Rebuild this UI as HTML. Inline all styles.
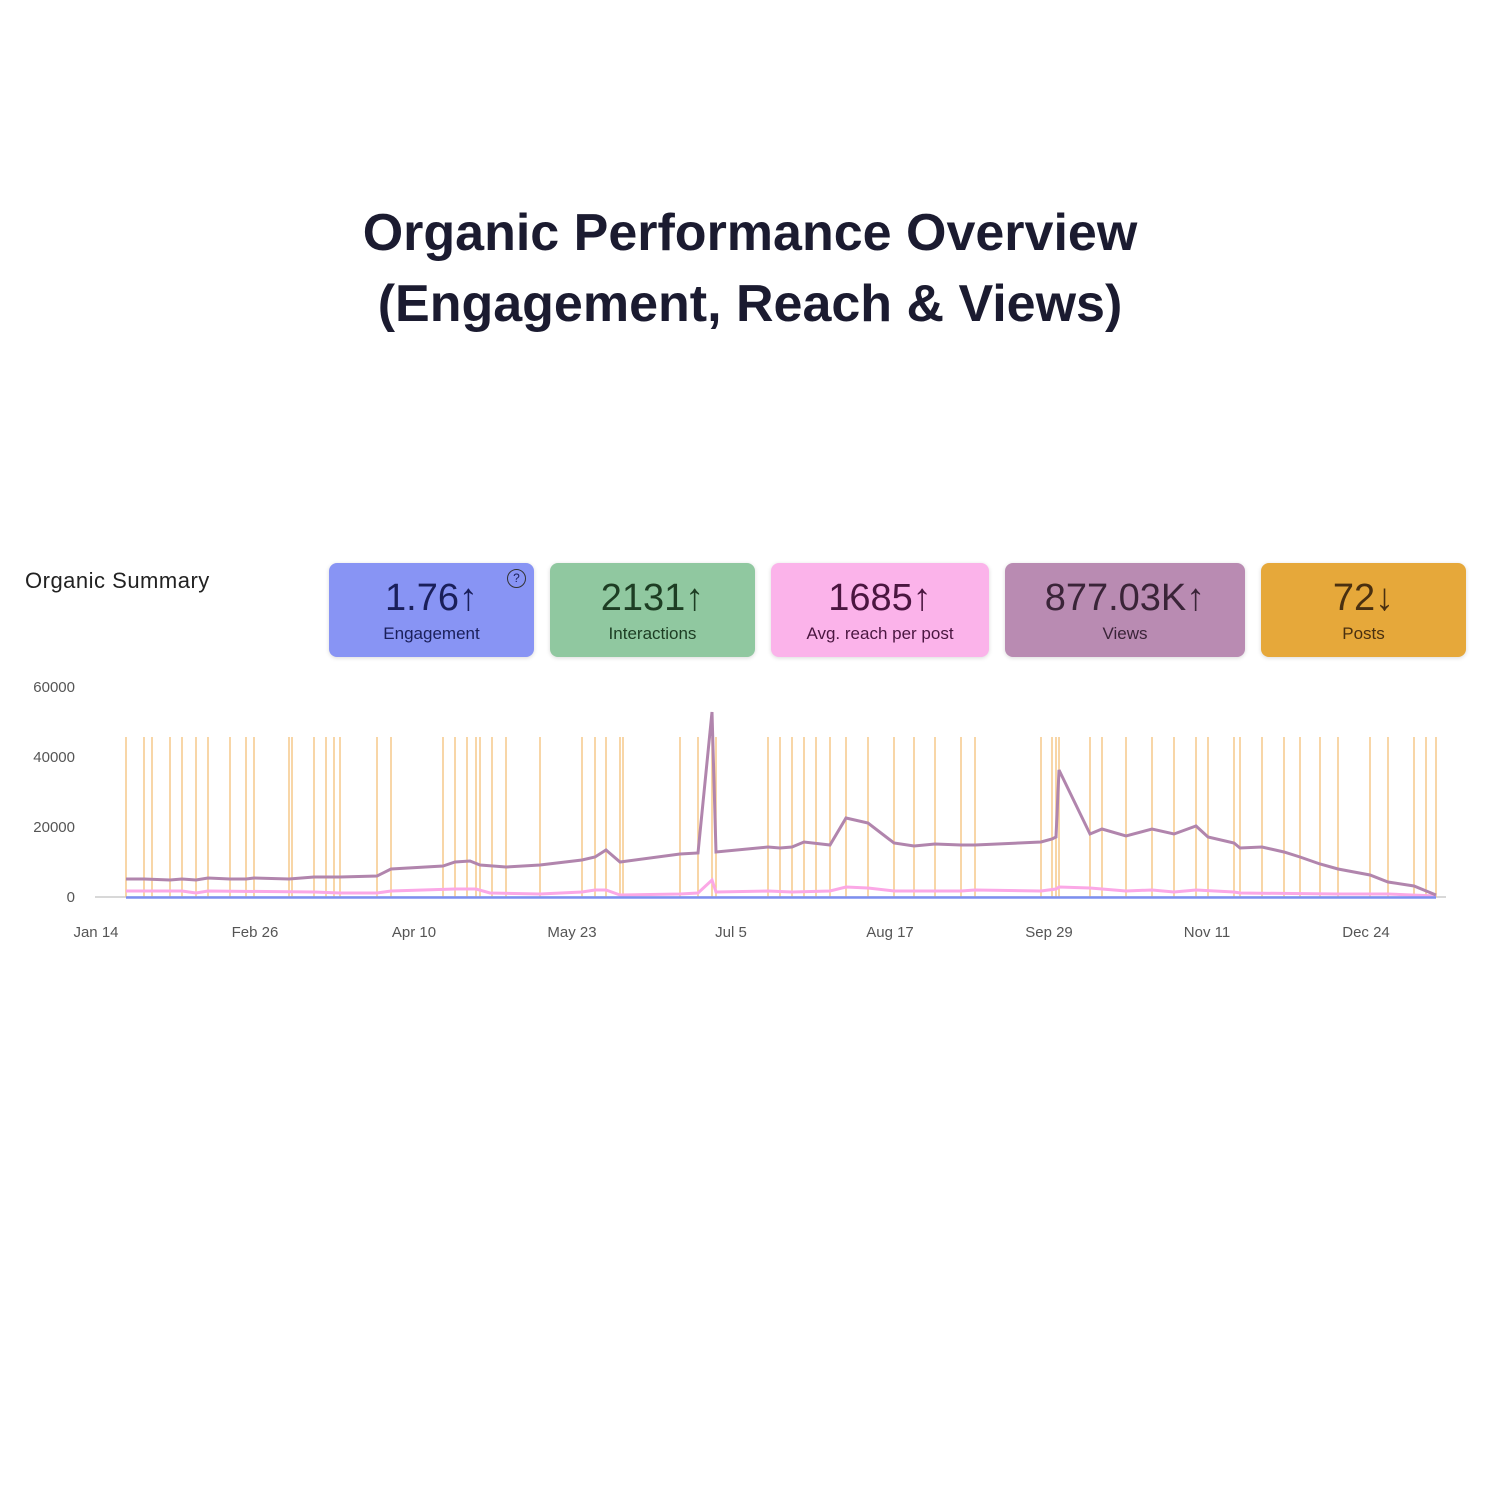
<!DOCTYPE html>
<html><head><meta charset="utf-8"><style>
body{margin:0;width:1500px;height:1500px;background:#fff;font-family:"Liberation Sans",sans-serif;position:relative;overflow:hidden}
.t{position:absolute;left:0;width:1500px;text-align:center;font-weight:bold;font-size:52px;color:#1b1b30;line-height:71px;top:198px}
.os{position:absolute;left:25px;top:568px;font-size:22px;letter-spacing:0.5px;color:#222}
.c{position:absolute;top:563px;height:94px;border-radius:8px;text-align:center;box-shadow:0 1px 4px rgba(0,0,0,.15)}
.c .v{font-size:38px;margin-top:13px;line-height:44px}
.c .l{font-size:17px;margin-top:4px}
</style></head><body>
<div class="t">Organic Performance Overview<br>(Engagement, Reach &amp; Views)</div>
<div class="os">Organic Summary</div>
<div class="c" style="left:329px;width:205px;background:#8894f4;color:#1a1f5a"><div class="v">1.76↑</div><div class="l">Engagement</div><div style="position:absolute;right:8px;top:6px;width:17px;height:17px;border:1.5px solid #333;border-radius:50%;font-size:12px;line-height:17px">?</div></div>
<div class="c" style="left:550px;width:205px;background:#90c8a0;color:#1d3d23"><div class="v">2131↑</div><div class="l">Interactions</div></div>
<div class="c" style="left:771px;width:218px;background:#fbb3ea;color:#4a1640"><div class="v">1685↑</div><div class="l">Avg. reach per post</div></div>
<div class="c" style="left:1005px;width:240px;background:#b98bb2;color:#3a2438"><div class="v">877.03K↑</div><div class="l">Views</div></div>
<div class="c" style="left:1261px;width:205px;background:#e6a83a;color:#4a3010"><div class="v">72↓</div><div class="l">Posts</div></div>
<svg width="1500" height="1500" style="position:absolute;left:0;top:0" font-family="Liberation Sans, sans-serif">
<g font-size="15" fill="#555" text-anchor="end">
<text x="75" y="692">60000</text><text x="75" y="762">40000</text><text x="75" y="832">20000</text><text x="75" y="902">0</text></g>
<g font-size="15" fill="#555" text-anchor="middle">
<text x="96" y="937">Jan 14</text><text x="255" y="937">Feb 26</text><text x="414" y="937">Apr 10</text><text x="572" y="937">May 23</text><text x="731" y="937">Jul 5</text><text x="890" y="937">Aug 17</text><text x="1049" y="937">Sep 29</text><text x="1207" y="937">Nov 11</text><text x="1366" y="937">Dec 24</text></g>
<line x1="95" y1="897" x2="1446" y2="897" stroke="#ccc" stroke-width="1.5"/>
<g stroke="#f5c98a" stroke-width="1.5" id="v"></g>
<polyline fill="none" stroke="#fba8e6" stroke-width="3" points="126,891 182,891 196,893 208,891 314,892 340,893 377,893 391,891 455,889 476,889 490,893 540,894 582,892 595,890 606,890 620,895 680,894 698,893 712,880 716,892 768,891 792,892 830,891 846,887 868,888 894,891 961,891 975,890 1041,891 1056,889 1059,887 1090,888 1126,891 1152,890 1174,892 1196,890 1234,892 1240,893 1338,894 1388,894 1436,896"/>
<polyline fill="none" stroke="#b185ad" stroke-width="3" points="126,879 144,879 170,880 182,879 196,880 208,878 230,879 246,879 254,878 289,879 314,877 326,877 340,877 377,876 391,869 443,866 455,862 470,861 480,865 506,867 540,865 582,860 595,857 606,850 620,862 680,854 698,853 712,712 716,852 768,847 780,848 792,847 804,842 830,845 846,818 868,823 894,843 914,846 935,844 961,845 975,845 1041,842 1052,839 1056,837 1059,770 1090,834 1102,829 1126,836 1152,829 1174,834 1196,826 1208,837 1234,843 1240,848 1262,847 1284,852 1300,857 1320,864 1338,869 1370,875 1388,882 1414,886 1436,895"/>
<line x1="126" y1="897.5" x2="1436" y2="897.5" stroke="#7d8ff0" stroke-width="2.5"/>
</svg>
<script>
var xs=[126,144,152,170,182,196,208,230,246,254,289,292,314,326,334,340,377,391,443,455,467,476,480,492,506,540,582,595,606,620,623,680,698,712,716,768,780,792,804,816,830,846,868,894,914,935,961,975,1041,1052,1056,1059,1090,1102,1126,1152,1174,1196,1208,1234,1240,1262,1284,1300,1320,1338,1370,1388,1414,1426,1436];
var g=document.getElementById('v'),s='';xs.forEach(function(x){s+='<line x1="'+x+'" y1="737" x2="'+x+'" y2="897"/>'});g.innerHTML=s;
</script>
</body></html>
